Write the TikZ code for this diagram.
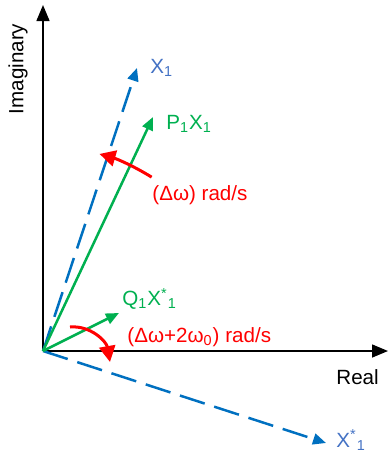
\documentclass[tikz,border=0pt]{standalone}
\usepackage{fontspec}
\setmainfont{Liberation Sans}
\usetikzlibrary{positioning,arrows.meta}
\definecolor{phBlue}{RGB}{0,112,192}
\definecolor{phBlueTxt}{RGB}{68,114,196}
\definecolor{phGreen}{RGB}{0,176,80}
\definecolor{phRed}{RGB}{255,0,0}

\begin{document}
\begin{tikzpicture}[x=0.5pt, y=0.5pt,
  axis/.style={-{Triangle[length=8pt,width=6.5pt]}, line width=0.75pt, black},
  vec/.style={-{Triangle[length=6.5pt,width=5.5pt]}, line width=1.25pt, phGreen},
  dvec/.style={-{Triangle[length=6.5pt,width=5.5pt]}, line width=1.25pt, phBlue,
               dash pattern=on 13pt off 5pt},
  rot/.style={-{Triangle[length=8pt,width=8pt]}, line width=1.5pt, phRed},
  lbl/.style={font=\fontsize{10.3}{12}\selectfont, inner sep=0pt, anchor=west}]
  \useasboundingbox (0,0) rectangle (390,-456);
  % axes
  \coordinate (O) at (43,-351);
  \coordinate (yend) at (43,-5);
  \coordinate (xend) at (388,-351);
  \draw[axis] (O) -- (yend);
  \draw[axis] (O) -- (xend);
  \node[lbl, anchor=center, rotate=90] (imag) at (18,-69) {Imaginary};
  \node[lbl] (real) at (336,-377) {Real};
  % phasors
  \coordinate (x1) at (137,-68);
  \coordinate (p1) at (153,-117);
  \coordinate (q1) at (119,-313);
  \coordinate (x1c) at (326,-443);
  \draw[dvec] (O) -- (x1);
  \draw[dvec] (O) -- (x1c);
  \draw[vec] (O) -- (p1);
  \draw[vec] (O) -- (q1);
  \node[lbl, text=phBlueTxt] (x1lbl) at (150,-68) {X\textsubscript{1}};
  \node[lbl, text=phGreen] (p1lbl) at (166,-124) {P\textsubscript{1}X\textsubscript{1}};
  \node[lbl, text=phGreen] (q1lbl) at (122,-299) {Q\textsubscript{1}X\textsuperscript{*}\textsubscript{1}};
  \node[lbl, text=phBlueTxt] (x1clbl) at (336,-440) {X\textsuperscript{*}\textsubscript{1}};
  % rotation
  \draw[rot] (O) ++(58:205) arc[start angle=58, end angle=74, radius=205];
  \coordinate (r2a) at (70,-327);
  \coordinate (r2b) at (110,-362);
  \draw[rot] (r2a) to[out=5, in=100] (r2b);
  \node[lbl, text=phRed] (w1lbl) at (152,-195) {(Δω) rad/s};
  \node[lbl, text=phRed] (w2lbl) at (127,-337) {(Δω+2ω\textsubscript{0}) rad/s};
\end{tikzpicture}
\end{document}
